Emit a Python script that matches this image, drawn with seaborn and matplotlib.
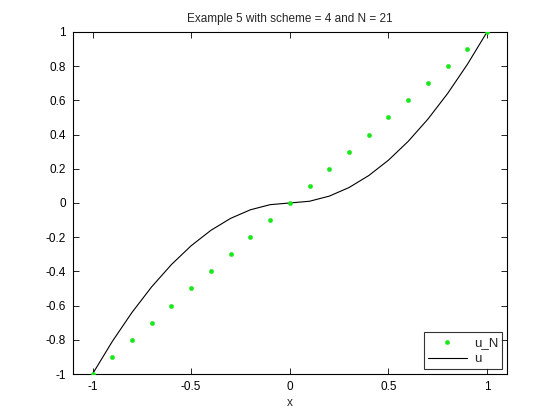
import matplotlib
matplotlib.use("Agg")
import matplotlib.pyplot as plt
import seaborn as sns
import pandas as pd

x_vals = [-1.0, -0.9, -0.8, -0.7, -0.6, -0.5, -0.4, -0.3, -0.2, -0.1, 0.0,
          0.1, 0.2, 0.3, 0.4, 0.5, 0.6, 0.7, 0.8, 0.9, 1.0]
uN_vals = [-1.0, -0.9, -0.8, -0.7, -0.6, -0.5, -0.4, -0.3, -0.2, -0.1, 0.0,
           0.1, 0.2, 0.3, 0.4, 0.5, 0.6, 0.7, 0.8, 0.9, 1.0]
u_vals = [-1.0, -0.81, -0.64, -0.49, -0.36, -0.25, -0.16, -0.09, -0.04, -0.01, 0.0,
          0.01, 0.04, 0.09, 0.16, 0.25, 0.36, 0.49, 0.64, 0.81, 1.0]
x_ticks = [-1, -0.5, 0, 0.5, 1]
x_ticklabels = ["-1", "-0.5", "0", "0.5", "1"]
y_ticks = [-1, -0.8, -0.6, -0.4, -0.2, 0, 0.2, 0.4, 0.6, 0.8, 1]
y_ticklabels = ["-1", "-0.8", "-0.6", "-0.4", "-0.2", "0", "0.2", "0.4", "0.6", "0.8", "1"]

df = pd.DataFrame({"x": x_vals, "u_N": uN_vals, "u": u_vals})

sns.set_style("ticks")
plt.rcParams['font.family'] = ['Liberation Sans', 'DejaVu Sans']

fig = plt.figure(figsize=(5.6, 4.2), dpi=100)
ax = fig.add_axes([0.130, 0.1095, 0.775, 0.8145])

sns.scatterplot(data=df, x="x", y="u_N", ax=ax, color="#11ee11", marker="o",
                s=9, edgecolor="#33dd33", linewidth=0.4, label="u_N", zorder=3)
sns.lineplot(data=df, x="x", y="u", ax=ax, color="black", linewidth=0.8,
             label="u", zorder=2)

ax.set_xlim(-1.1, 1.1)
ax.set_ylim(-1, 1)
ax.set_xticks(x_ticks)
ax.set_xticklabels(x_ticklabels)
ax.set_yticks(y_ticks)
ax.set_yticklabels(y_ticklabels)
ax.tick_params(direction="in", top=True, right=True, labelsize=8.5, length=4,
               width=0.6, pad=5, colors="black")
for sp in ax.spines.values():
    sp.set_linewidth(0.8)
    sp.set_color("black")
ax.set_xlabel("x", fontsize=8.5, labelpad=3)
ax.set_ylabel("")
ax.set_title("Example 5 with scheme = 4 and N = 21", fontsize=8.5, pad=7)

leg = ax.legend(loc="lower right", fontsize=9.5, frameon=True, fancybox=False,
                edgecolor="black", borderpad=0.3, handlelength=3.0, labelspacing=0.35,
                borderaxespad=0.35, handletextpad=0.5, markerscale=1.0)
leg.get_frame().set_linewidth(0.8)

fig.savefig("out.png", dpi=100, facecolor="white")
